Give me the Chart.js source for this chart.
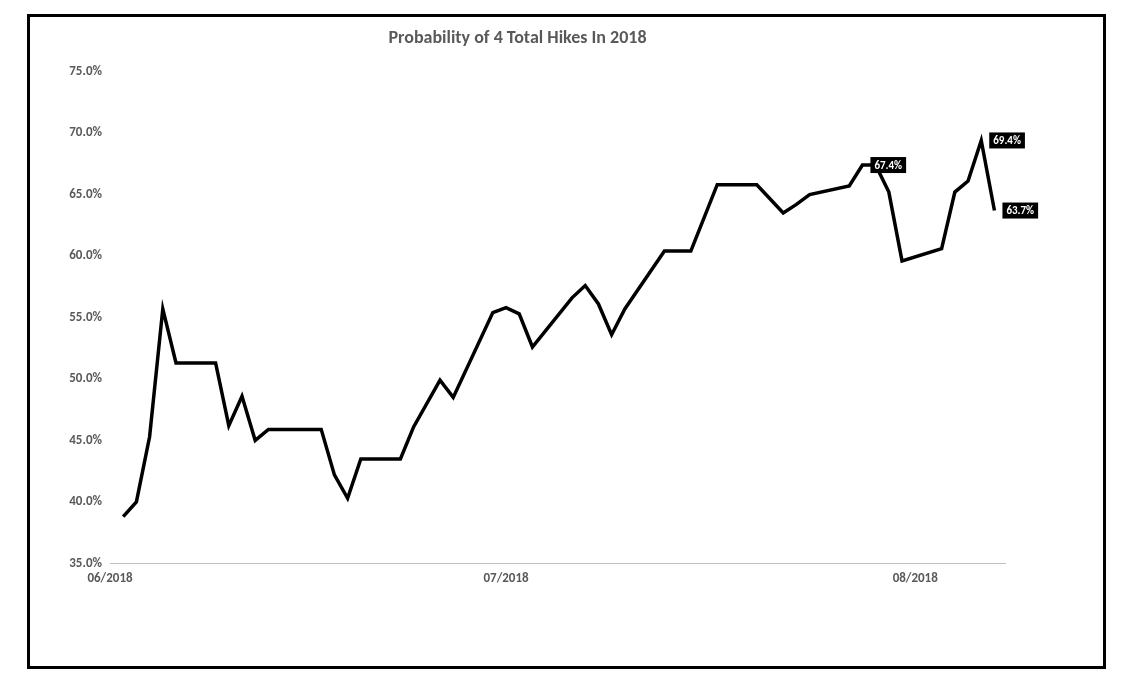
<!DOCTYPE html>
<html>
<head>
<meta charset="utf-8">
<script src="https://cdn.jsdelivr.net/npm/chart.js@4/dist/chart.umd.min.js"></script>
<style>
  html, body { margin: 0; padding: 0; background: #fff; }
  #wrap { position: relative; width: 1143px; height: 695px; }
  #frame { position: absolute; left: 27px; top: 14px; width: 1073px; height: 649px; border: 3px solid #000; pointer-events: none; }
  canvas { position: absolute; left: 0; top: 0; }
</style>
</head>
<body>
<div id="wrap">
  <canvas id="chart" width="1143" height="695"></canvas>
  <div id="frame"></div>
</div>
<script>
// days counted from 1 June 2018
var days = [1, 2, 3, 4, 5, 8, 9, 10, 11, 12, 16, 17, 18, 19, 22, 23, 25, 26, 29, 30, 31, 32, 35, 36, 37, 38, 39, 42, 44, 46, 49, 51, 52, 53, 56, 57, 58, 59, 60, 63, 64, 65, 66, 67];
var probs = [38.8, 40.0, 45.3, 55.7, 51.3, 51.3, 46.2, 48.6, 45.0, 45.9, 45.9, 42.2, 40.3, 43.5, 43.5, 46.1, 49.9, 48.5, 55.4, 55.8, 55.3, 52.6, 56.6, 57.6, 56.1, 53.6, 55.7, 60.4, 60.4, 65.8, 65.8, 63.5, 64.2, 65.0, 65.7, 67.4, 67.4, 65.2, 59.6, 60.6, 65.2, 66.1, 69.4, 63.7];
var labelledDays = [57, 69 - 3, 67];
var monthTicks = { 0: '06/2018', 30: '07/2018', 61: '08/2018' };

var grey = '#595959';
var points = days.map(function (d, i) { return { x: d, y: probs[i] }; });

var tagPlugin = {
    id: 'tags',
    afterDatasetsDraw: function (chart) {
        var ctx = chart.ctx;
        var meta = chart.getDatasetMeta(0);
        ctx.save();
        ctx.font = 'bold 11px Calibri, "Liberation Sans", Arial, sans-serif';
        ctx.textBaseline = 'middle';
        meta.data.forEach(function (pt, i) {
            if (labelledDays.indexOf(days[i]) < 0) return;
            var txt = probs[i].toFixed(1) + '%';
            var w = ctx.measureText(txt).width + 8;
            var x = pt.x + 8, y = pt.y;
            ctx.fillStyle = '#000';
            ctx.fillRect(x, y - 8, w, 16);
            ctx.fillStyle = '#fff';
            ctx.fillText(txt, x + 4, y + 1);
        });
        ctx.restore();
    }
};

new Chart(document.getElementById('chart'), {
    type: 'line',
    data: {
        datasets: [{ data: points, borderColor: '#000', borderWidth: 3.5, pointRadius: 0, tension: 0, fill: false }]
    },
    options: {
        responsive: false,
        animation: false,
        layout: { padding: { left: 30, right: 138, top: 28, bottom: 100 } },
        plugins: {
            legend: { display: false },
            tooltip: { enabled: false },
            title: {
                display: true,
                text: 'Probability of 4 Total Hikes In 2018',
                color: grey,
                font: { family: 'Calibri, "Liberation Sans", Arial, sans-serif', size: 18, weight: 'bold' },
                padding: { top: 0, bottom: 22 }
            }
        },
        scales: {
            x: {
                type: 'linear', min: 0, max: 67.8,
                grid: { display: false, drawTicks: false },
                border: { color: '#bfbfbf', width: 1 },
                afterBuildTicks: function (axis) { axis.ticks = [{ value: 0 }, { value: 30 }, { value: 61 }]; },
                ticks: {
                    autoSkip: false, maxRotation: 0, padding: 8, color: grey,
                    font: { family: 'Calibri, "Liberation Sans", Arial, sans-serif', size: 13, weight: 'bold' },
                    callback: function (v) { return monthTicks[v] || ''; }
                }
            },
            y: {
                min: 35, max: 75,
                afterFit: function (axis) { axis.width = 80; },
                grid: { display: false, drawTicks: false },
                border: { display: false },
                ticks: {
                    stepSize: 5, padding: 8, color: grey,
                    font: { family: 'Calibri, "Liberation Sans", Arial, sans-serif', size: 13, weight: 'bold' },
                    callback: function (v) { return v.toFixed(1) + '%'; }
                }
            }
        }
    },
    plugins: [tagPlugin]
});
</script>
</body>
</html>
